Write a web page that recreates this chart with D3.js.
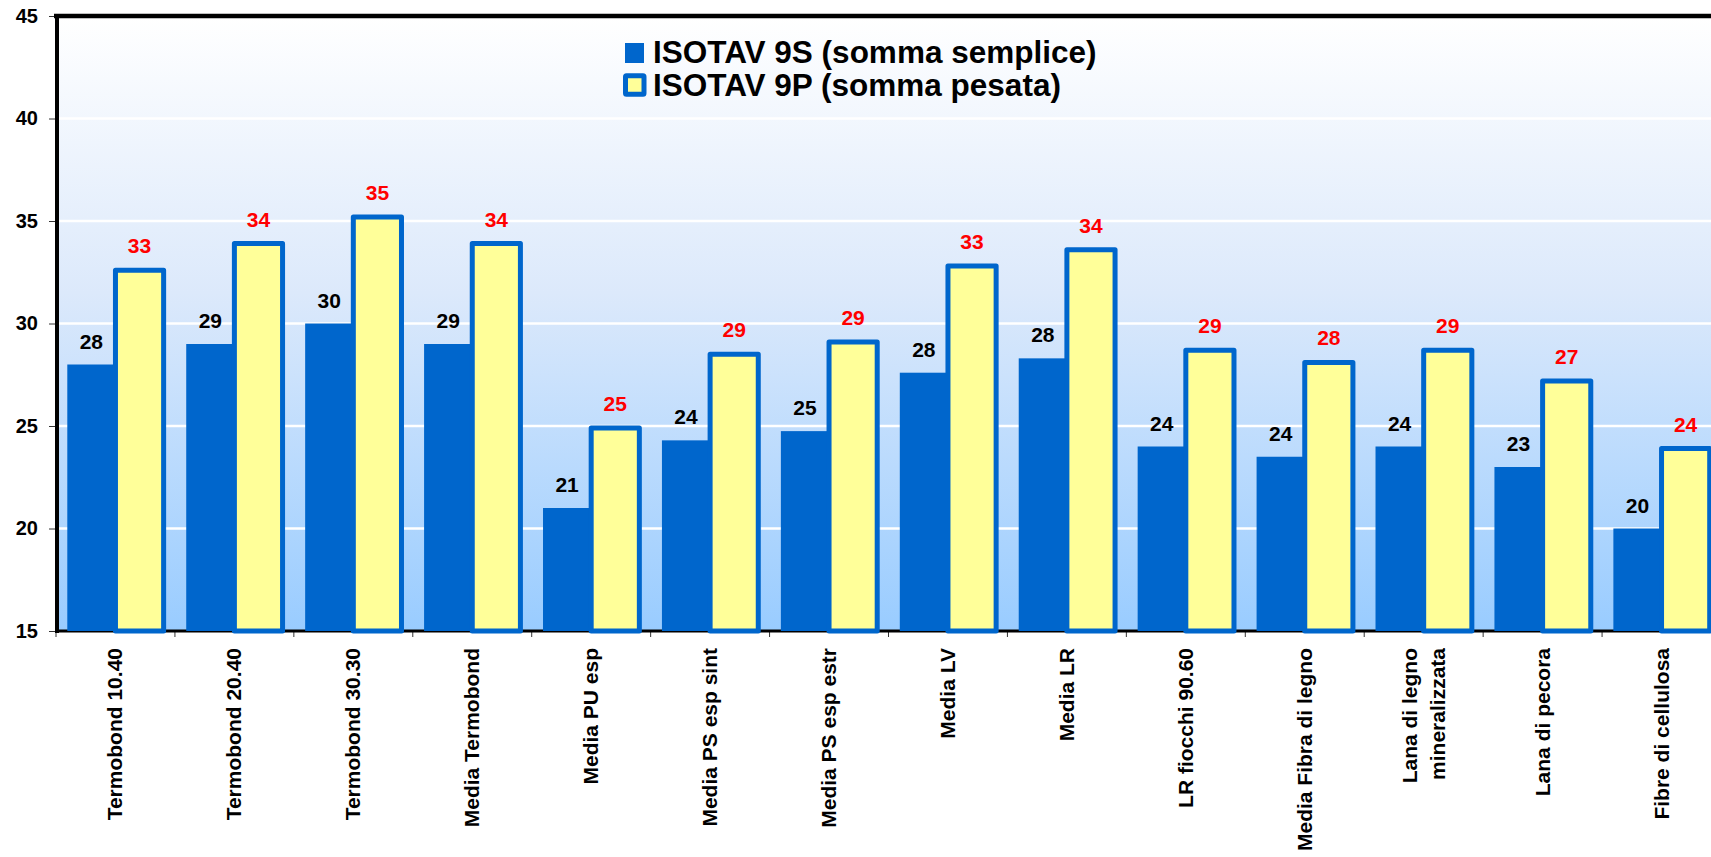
<!DOCTYPE html>
<html>
<head>
<meta charset="utf-8">
<script src="https://cdn.jsdelivr.net/npm/d3@7"></script>
<style>
  body { margin: 0; background: #ffffff; }
  text { font-family: "Liberation Sans", Arial, sans-serif; font-weight: bold; }
</style>
</head>
<body>
<div id="grafico"></div>
<script>
// DATI.
const categorie = [
  "Termobond 10.40", "Termobond 20.40", "Termobond 30.30", "Media Termobond",
  "Media PU esp", "Media PS esp sint", "Media PS esp estr", "Media LV",
  "Media LR", "LR fiocchi 90.60", "Media Fibra di legno",
  "Lana di legno\nmineralizzata", "Lana di pecora", "Fibre di cellulosa"
];
const serie = ["ISOTAV 9S (somma semplice)", "ISOTAV 9P (somma pesata)"];
const valori9S = [28, 29, 30, 29, 21, 24.3, 24.75, 27.6, 28.3, 24, 23.5, 24, 23, 20];
const valori9P = [32.6, 33.9, 35.2, 33.9, 24.9, 28.5, 29.1, 32.8, 33.6, 28.7, 28.1, 28.7, 27.2, 23.9];
const ticksY = [15, 20, 25, 30, 35, 40, 45];

// MISURE.
let width = 1711,
    height = 857;
let left = 56, top_ = 16, bottom = 631, right = 1721;
let fontTick = 20, fontValori = 21, fontCategorie = 21, fontLegenda = 31.5;

let svg = d3.select("#grafico").append("svg")
  .attr("width", width)
  .attr("height", height);

let y = d3.scaleLinear().domain([15, 45]).range([bottom, top_]);
let x0 = d3.scaleBand().domain(categorie).range([left, right])
  .paddingInner(0.19).paddingOuter(0.095);
let x1 = d3.scaleBand().domain([0, 1]).range([0, x0.bandwidth()]);

//--------------------------------------------------
// SFONDO.
function disegnaSfondo(){
  let grad = svg.append("defs").append("linearGradient")
    .attr("id", "sfondo")
    .attr("gradientUnits", "userSpaceOnUse")
    .attr("x1", 0).attr("x2", 0)
    .attr("y1", y(45)).attr("y2", y(15));
  grad.append("stop").attr("offset", 0).attr("stop-color", "#ffffff");
  grad.append("stop").attr("offset", 0.45).attr("stop-color", "#dce9fb");
  grad.append("stop").attr("offset", 1).attr("stop-color", "#99ccff");

  svg.append("rect")
    .attr("x", left).attr("y", y(45))
    .attr("width", right - left)
    .attr("height", y(15) - y(45))
    .attr("fill", "url(#sfondo)");

  // linee della griglia
  svg.append("g").selectAll("line")
    .data(ticksY.filter(function(d){ return d > 15 && d < 45; }))
    .enter().append("line")
    .attr("x1", left).attr("x2", right)
    .attr("y1", function(d){ return y(d); })
    .attr("y2", function(d){ return y(d); })
    .attr("stroke", "#ffffff")
    .attr("stroke-width", 2.5);
}

// ASSI.
function disegnaAssi(){
  let asseY = svg.append("g")
    .attr("transform", "translate(" + (left - 1) + ",0)")
    .call(d3.axisLeft(y).tickValues(ticksY).tickSize(6).tickPadding(11));
  asseY.select(".domain").remove();
  asseY.selectAll("line").attr("stroke", "#333");
  asseY.selectAll("text")
    .attr("font-size", fontTick + "px")
    .attr("font-family", "Liberation Sans, Arial, sans-serif")
    .attr("font-weight", "bold")
    .attr("fill", "#000");

  // tacche in basso tra le categorie
  let step = x0.step();
  svg.append("g").selectAll("line")
    .data(categorie).enter()
    .append("line")
    .attr("x1", function(d){ return x0(d) - step * x0.paddingInner() / 2; })
    .attr("x2", function(d){ return x0(d) - step * x0.paddingInner() / 2; })
    .attr("y1", bottom)
    .attr("y2", bottom + 6)
    .attr("stroke", "#333");

  // bordo superiore, asse sinistro e asse inferiore
  svg.append("line")
    .attr("x1", left - 2).attr("x2", width)
    .attr("y1", y(45)).attr("y2", y(45))
    .attr("stroke", "#000").attr("stroke-width", 4.5);
  svg.append("line")
    .attr("x1", left + 1).attr("x2", left + 1)
    .attr("y1", y(45) - 2).attr("y2", y(15) + 2)
    .attr("stroke", "#000").attr("stroke-width", 4);
  svg.append("line")
    .attr("x1", left - 1).attr("x2", width)
    .attr("y1", y(15)).attr("y2", y(15))
    .attr("stroke", "#000").attr("stroke-width", 3);
}

// BARRE.
function disegnaBarre(){
  svg.append("g").selectAll("rect")
    .data(valori9S).enter()
    .append("rect")
    .attr("x", function(d, i){ return x0(categorie[i]) + x1(0); })
    .attr("y", function(d){ return y(d); })
    .attr("width", x1.bandwidth())
    .attr("height", function(d){ return y(15) - y(d); })
    .attr("fill", "#0066cc");

  svg.append("g").selectAll("rect")
    .data(valori9P).enter()
    .append("rect")
    .attr("x", function(d, i){ return x0(categorie[i]) + x1(1); })
    .attr("y", function(d){ return y(d); })
    .attr("width", x1.bandwidth())
    .attr("height", function(d){ return y(15) - y(d); })
    .attr("fill", "#ffff99")
    .attr("stroke", "#0066cc")
    .attr("stroke-width", 5)
    .attr("stroke-linejoin", "round");
}

// ETICHETTE DEI VALORI.
function disegnaValori(){
  svg.append("g").selectAll("text")
    .data(valori9S).enter()
    .append("text")
    .text(function(d){ return Math.round(d); })
    .attr("x", function(d, i){ return x0(categorie[i]) + x1(0) + x1.bandwidth() / 2; })
    .attr("y", function(d){ return y(d) - 16; })
    .attr("text-anchor", "middle")
    .attr("font-size", fontValori + "px")
    .attr("fill", "#000");

  svg.append("g").selectAll("text")
    .data(valori9P).enter()
    .append("text")
    .text(function(d){ return Math.round(d); })
    .attr("x", function(d, i){ return x0(categorie[i]) + x1(1) + x1.bandwidth() / 2; })
    .attr("y", function(d){ return y(d) - 17; })
    .attr("text-anchor", "middle")
    .attr("font-size", fontValori + "px")
    .attr("fill", "#ff0000");
}

// ETICHETTE DELLE CATEGORIE.
function disegnaCategorie(){
  let righe = 28;
  let etichette = svg.append("g").selectAll("text")
    .data(categorie).enter()
    .append("text")
    .attr("transform", function(d){
      return "translate(" + (x0(d) + x0.bandwidth() / 2) + "," + (bottom + 17) + ") rotate(-90)";
    })
    .attr("text-anchor", "end")
    .attr("font-size", fontCategorie + "px")
    .attr("fill", "#000");

  etichette.each(function(d){
    let linee = d.split("\n");
    let n = linee.length;
    d3.select(this).selectAll("tspan")
      .data(linee).enter()
      .append("tspan")
      .attr("x", 0)
      .attr("y", function(_, i){ return 7 + (i - (n - 1) / 2) * righe; })
      .text(function(t){ return t; });
  });
}

// LEGENDA.
function disegnaLegenda(){
  let leg = svg.append("g");
  leg.append("rect")
    .attr("x", 625).attr("y", 43)
    .attr("width", 19).attr("height", 20)
    .attr("fill", "#0066cc");
  leg.append("rect")
    .attr("x", 625.5).attr("y", 75.8)
    .attr("width", 18.5).attr("height", 18.5)
    .attr("rx", 1)
    .attr("fill", "#ffff99")
    .attr("stroke", "#0066cc")
    .attr("stroke-width", 5);

  leg.selectAll("text")
    .data(serie).enter()
    .append("text")
    .text(function(d){ return d; })
    .attr("x", 653)
    .attr("y", function(_, i){ return 63 + i * 32.5; })
    .attr("font-size", fontLegenda + "px")
    .attr("fill", "#000");
}

//##################################################
disegnaSfondo();
disegnaAssi();
disegnaBarre();
disegnaValori();
disegnaCategorie();
disegnaLegenda();
</script>
</body>
</html>
